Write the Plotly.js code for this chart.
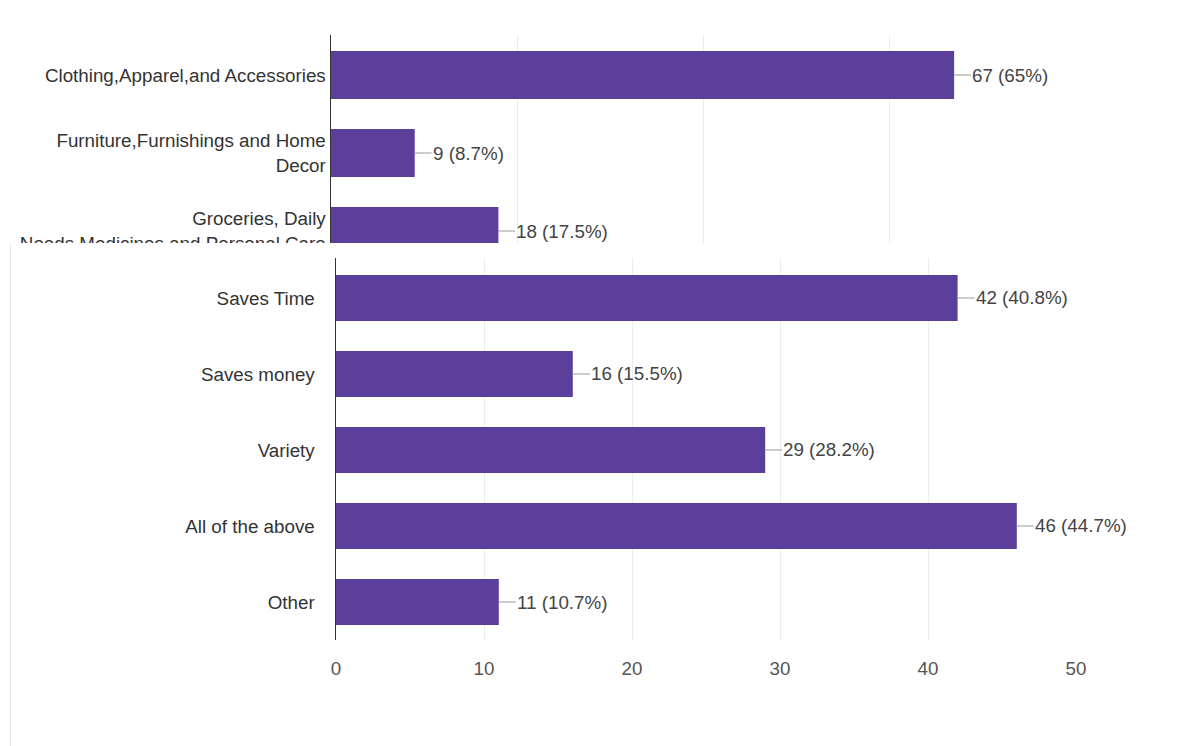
<!DOCTYPE html>
<html>
<head>
<meta charset="utf-8">
<script src="https://cdn.plot.ly/plotly-3.0.1.min.js"></script>
<style>
  html, body { margin: 0; padding: 0; background: #ffffff; }
  body { width: 1198px; height: 746px; position: relative; overflow: hidden; }
  #topWrap { position: absolute; left: 0; top: 0; width: 1198px; height: 243px; overflow: hidden; z-index: 1; }
  #topChart { position: absolute; left: 0; top: 0; width: 1198px; height: 360px; }
  #botChart { position: absolute; left: 10px; top: 243px; width: 1188px; height: 503px; z-index: 2;
              background: #ffffff; border-left: 1px solid #e8e8e8; }
</style>
</head>
<body>
<div id="topWrap"><div id="topChart"></div></div>
<div id="botChart"></div>
<script>
// ---- data: top (partially hidden) chart ----
const topCategories = [
  'Clothing,Apparel,and Accessories',
  'Furniture,Furnishings and Home<br>Decor',
  'Groceries, Daily<br>Needs,Medicines and Personal Care'
];
const topCounts = [67, 9, 18];
const topPercents = ['65%', '8.7%', '17.5%'];

// ---- data: bottom chart ----
const botCategories = ['Saves Time', 'Saves money', 'Variety', 'All of the above', 'Other'];
const botCounts = [42, 16, 29, 46, 11];
const botPercents = ['40.8%', '15.5%', '28.2%', '44.7%', '10.7%'];
const botTicks = [0, 10, 20, 30, 40, 50];

const BAR = '#5b3f9a';
const FONT = 'Liberation Sans, Arial, sans-serif';
const FS = 18.8;

function labels(cats, counts, pcts) {
  return cats.map((c, i) => ({
    x: counts[i], y: c, xref: 'x', yref: 'y',
    text: counts[i] + ' (' + pcts[i] + ')',
    showarrow: true, arrowhead: 0, arrowwidth: 1, arrowcolor: '#9a9a9a',
    ax: 17, ay: 0, standoff: 0, startstandoff: 0,
    xanchor: 'left', yanchor: 'middle', borderpad: 0,
    font: { family: FONT, size: FS, color: '#444444' }
  }));
}

// ---- top chart ----
Plotly.newPlot('topChart', [{
  type: 'bar', orientation: 'h',
  x: topCounts, y: topCategories,
  marker: { color: BAR },
  width: 0.615,
  hoverinfo: 'none'
}], {
  width: 1198, height: 360,
  margin: { l: 331, r: 123, t: 35, b: 35 },
  paper_bgcolor: 'rgba(0,0,0,0)', plot_bgcolor: '#ffffff',
  showlegend: false,
  xaxis: {
    range: [0, 80], dtick: 20, showticklabels: false,
    showgrid: true, gridcolor: '#ececec', gridwidth: 1,
    zeroline: false, showline: false, fixedrange: true
  },
  yaxis: {
    type: 'category', range: [3.205, -0.513],
    showline: true, linecolor: '#333333', linewidth: 1.5,
    showgrid: false, zeroline: false,
    ticks: '',
    tickfont: { family: FONT, size: FS, color: '#333333' },
    fixedrange: true
  },
  annotations: labels(topCategories, topCounts, topPercents)
}, { displayModeBar: false, staticPlot: true });

// ---- bottom chart ----
Plotly.newPlot('botChart', [{
  type: 'bar', orientation: 'h',
  x: botCounts, y: botCategories,
  marker: { color: BAR },
  width: 0.605,
  hoverinfo: 'none'
}], {
  width: 1188, height: 503,
  margin: { l: 325, r: 123, t: 15, b: 106 },
  paper_bgcolor: '#ffffff', plot_bgcolor: '#ffffff',
  showlegend: false,
  xaxis: {
    range: [0, 50], tickvals: botTicks, ticktext: botTicks.map(String),
    showgrid: true, gridcolor: '#ececec', gridwidth: 1,
    zeroline: false, showline: false,
    ticks: 'outside', ticklen: 11, tickcolor: 'rgba(0,0,0,0)',
    tickfont: { family: FONT, size: FS, color: '#555555' },
    fixedrange: true
  },
  yaxis: {
    type: 'category', range: [4.5, -0.526],
    showline: true, linecolor: '#333333', linewidth: 1.5,
    showgrid: false, zeroline: false,
    ticks: 'outside', ticklen: 16, tickcolor: 'rgba(0,0,0,0)',
    tickfont: { family: FONT, size: FS, color: '#333333' },
    fixedrange: true
  },
  annotations: labels(botCategories, botCounts, botPercents)
}, { displayModeBar: false, staticPlot: true });
</script>
</body>
</html>
